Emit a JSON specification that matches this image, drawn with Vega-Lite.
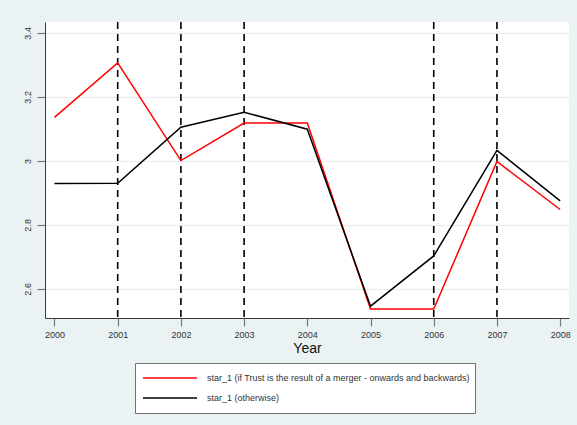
{
  "$schema": "https://vega.github.io/schema/vega-lite/v6.json",
  "width": 524,
  "height": 296,
  "autosize": {"type": "none"},
  "padding": {"left": 45, "top": 22, "right": 8, "bottom": 107},
  "background": "#eaf2f3",
  "config": {
    "font": "Liberation Sans",
    "view": {"fill": "white", "stroke": null},
    "axis": {
      "domainColor": "#3a3a3a",
      "domainWidth": 1,
      "tickColor": "#7a7a7a",
      "tickWidth": 1.2,
      "tickSize": 8,
      "labelColor": "#333333",
      "labelFontSize": 9,
      "gridColor": "#e4eef0",
      "gridWidth": 1
    },
    "legend": {
      "fillColor": "white",
      "strokeColor": "#707070",
      "strokeWidth": 1,
      "padding": 5,
      "symbolOffset": 2,
      "symbolType": "stroke",
      "symbolSize": 2916,
      "symbolStrokeWidth": 1.6,
      "clipHeight": 20,
      "rowPadding": 0,
      "labelOffset": 9,
      "labelFontSize": 9,
      "labelColor": "#333333",
      "labelLimit": 400
    }
  },
  "datasets": {
    "series": [
      {"year": 2000, "group": "star_1 (if Trust is the result of a merger - onwards and backwards)", "value": 3.136},
      {"year": 2001, "group": "star_1 (if Trust is the result of a merger - onwards and backwards)", "value": 3.306},
      {"year": 2002, "group": "star_1 (if Trust is the result of a merger - onwards and backwards)", "value": 3.001},
      {"year": 2003, "group": "star_1 (if Trust is the result of a merger - onwards and backwards)", "value": 3.118},
      {"year": 2004, "group": "star_1 (if Trust is the result of a merger - onwards and backwards)", "value": 3.118},
      {"year": 2005, "group": "star_1 (if Trust is the result of a merger - onwards and backwards)", "value": 2.537},
      {"year": 2006, "group": "star_1 (if Trust is the result of a merger - onwards and backwards)", "value": 2.537},
      {"year": 2007, "group": "star_1 (if Trust is the result of a merger - onwards and backwards)", "value": 2.998},
      {"year": 2008, "group": "star_1 (if Trust is the result of a merger - onwards and backwards)", "value": 2.848},
      {"year": 2000, "group": "star_1 (otherwise)", "value": 2.929},
      {"year": 2001, "group": "star_1 (otherwise)", "value": 2.930},
      {"year": 2002, "group": "star_1 (otherwise)", "value": 3.105},
      {"year": 2003, "group": "star_1 (otherwise)", "value": 3.152},
      {"year": 2004, "group": "star_1 (otherwise)", "value": 3.099},
      {"year": 2005, "group": "star_1 (otherwise)", "value": 2.546},
      {"year": 2006, "group": "star_1 (otherwise)", "value": 2.703},
      {"year": 2007, "group": "star_1 (otherwise)", "value": 3.033},
      {"year": 2008, "group": "star_1 (otherwise)", "value": 2.875}
    ],
    "markers": [
      {"year": 2001},
      {"year": 2002},
      {"year": 2003},
      {"year": 2006},
      {"year": 2007}
    ]
  },
  "layer": [
    {
      "data": {"name": "markers"},
      "mark": {"type": "rule", "color": "black", "strokeWidth": 1.6, "strokeDash": [7, 5]},
      "encoding": {
        "x": {
          "field": "year",
          "type": "quantitative",
          "scale": {"domain": [1999.85, 2008.14], "nice": false, "zero": false}
        }
      }
    },
    {
      "data": {"name": "series"},
      "mark": {"type": "line", "strokeWidth": 1.5},
      "encoding": {
        "x": {
          "field": "year",
          "type": "quantitative",
          "scale": {"domain": [1999.85, 2008.14], "nice": false, "zero": false},
          "axis": {
            "title": "Year",
            "titleFontSize": 14,
            "titleFontWeight": "normal",
            "titleColor": "#111111",
            "titlePadding": 2,
            "values": [2000, 2001, 2002, 2003, 2004, 2005, 2006, 2007, 2008],
            "format": "d",
            "labelPadding": 4,
            "grid": false
          }
        },
        "y": {
          "field": "value",
          "type": "quantitative",
          "scale": {"domain": [2.509, 3.434], "nice": false, "zero": false},
          "axis": {
            "title": null,
            "values": [2.6, 2.8, 3.0, 3.2, 3.4],
            "format": ".1~f",
            "labelAngle": -90,
            "labelAlign": "center",
            "labelBaseline": "bottom",
            "labelPadding": 5,
            "grid": true
          }
        },
        "color": {
          "field": "group",
          "type": "nominal",
          "scale": {
            "domain": [
              "star_1 (if Trust is the result of a merger - onwards and backwards)",
              "star_1 (otherwise)"
            ],
            "range": ["#ff0000", "#000000"]
          },
          "legend": {
            "title": null,
            "orient": "none",
            "direction": "vertical",
            "legendX": 90,
            "legendY": 341
          }
        }
      }
    }
  ]
}
